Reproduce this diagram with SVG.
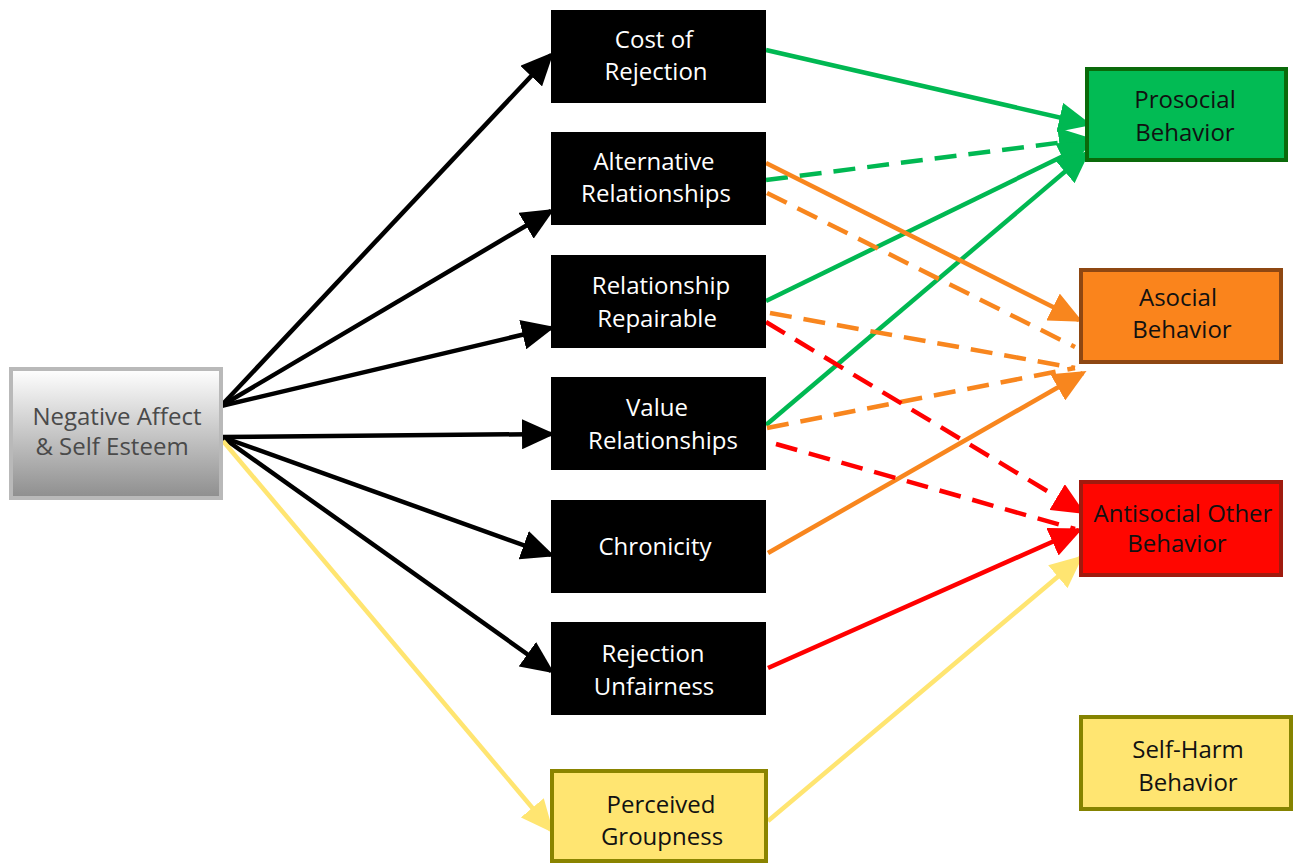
<svg xmlns="http://www.w3.org/2000/svg" width="1294" height="865" viewBox="0 0 1294 865">
  <style>
    text { font-family: "Open Sans", "Liberation Sans", sans-serif; font-size: 24px; text-anchor: middle; }
    .dark rect { fill: #000000; }
    .dark text { fill: #ffffff; }
    .out text { fill: #111111; }
    .ln { fill: none; stroke-width: 4.5; }
    .dash { stroke-dasharray: 22 12; }
    .k { stroke: #000000; }
    .g { stroke: #00B852; }
    .o { stroke: #F8861E; }
    .r { stroke: #FF0000; }
    .y { stroke: #FFE571; }
  </style>
  <defs>
    <linearGradient id="greyFade" x1="0" y1="0" x2="0" y2="1">
      <stop offset="0" stop-color="#ffffff"/>
      <stop offset="1" stop-color="#8e8e8e"/>
    </linearGradient>
    <marker id="hk" markerUnits="userSpaceOnUse" markerWidth="33" markerHeight="30" refX="29" refY="15" orient="auto">
      <path d="M0,0 L33,15 L0,30 z" fill="#000000"/>
    </marker>
    <marker id="hg" markerUnits="userSpaceOnUse" markerWidth="33" markerHeight="30" refX="29" refY="15" orient="auto">
      <path d="M0,0 L33,15 L0,30 z" fill="#00B852"/>
    </marker>
    <marker id="ho" markerUnits="userSpaceOnUse" markerWidth="33" markerHeight="30" refX="29" refY="15" orient="auto">
      <path d="M0,0 L33,15 L0,30 z" fill="#F8861E"/>
    </marker>
    <marker id="hr" markerUnits="userSpaceOnUse" markerWidth="33" markerHeight="30" refX="29" refY="15" orient="auto">
      <path d="M0,0 L33,15 L0,30 z" fill="#FF0000"/>
    </marker>
    <marker id="hy" markerUnits="userSpaceOnUse" markerWidth="33" markerHeight="30" refX="29" refY="15" orient="auto">
      <path d="M0,0 L33,15 L0,30 z" fill="#FFE571"/>
    </marker>
  </defs>

  <!-- connectors -->
  <g id="connectors">
    <!-- from the source node to the seven mediators -->
    <line class="ln k" x1="221" y1="406" x2="551" y2="55" marker-end="url(#hk)"/>
    <line class="ln k" x1="221" y1="406" x2="551" y2="211" marker-end="url(#hk)"/>
    <line class="ln k" x1="221" y1="406" x2="551" y2="328" marker-end="url(#hk)"/>
    <line class="ln k" x1="222" y1="437" x2="551" y2="434" marker-end="url(#hk)"/>
    <line class="ln k" x1="222" y1="437" x2="551" y2="555" marker-end="url(#hk)"/>
    <line class="ln k" x1="222" y1="437" x2="551" y2="671" marker-end="url(#hk)"/>
    <line class="ln y" x1="223" y1="441" x2="551" y2="830" marker-end="url(#hy)"/>

    <!-- prosocial -->
    <line class="ln g" x1="766" y1="50" x2="1088" y2="124" marker-end="url(#hg)"/>
    <line class="ln g dash" x1="766" y1="180" x2="1088" y2="139" marker-end="url(#hg)"/>
    <line class="ln g" x1="766" y1="301" x2="1088" y2="144" marker-end="url(#hg)"/>
    <line class="ln g" x1="766" y1="425" x2="1087" y2="153" marker-end="url(#hg)"/>

    <!-- asocial -->
    <line class="ln o" x1="766" y1="163" x2="1079" y2="320" marker-end="url(#ho)"/>
    <line class="ln o dash" x1="767" y1="193" x2="1075" y2="347"/>
    <line class="ln o dash" x1="770" y1="313" x2="1075" y2="368"/>
    <line class="ln o dash" x1="767" y1="428" x2="1075" y2="368"/>
    <line class="ln o" x1="768" y1="553" x2="1083" y2="373" marker-end="url(#ho)"/>

    <!-- antisocial -->
    <line class="ln r dash" x1="766" y1="322" x2="1082" y2="512" marker-end="url(#hr)"/>
    <line class="ln r dash" x1="776" y1="444" x2="1075" y2="529"/>
    <line class="ln r" x1="768" y1="668" x2="1079" y2="530" marker-end="url(#hr)"/>
    <line class="ln y" x1="768" y1="821" x2="1080" y2="558" marker-end="url(#hy)"/>
  </g>

  <!-- source node -->
  <g id="node-negative-affect">
    <rect x="11" y="369" width="210" height="129" fill="url(#greyFade)" stroke="#b9b9b9" stroke-width="4"/>
    <text x="117" y="425" fill="#4a4a4a" font-size="22">Negative Affect</text>
    <text x="112" y="455" fill="#4a4a4a" font-size="22">&amp; Self Esteem</text>
  </g>

  <!-- mediators -->
  <g id="node-cost" class="dark">
    <rect x="551" y="10" width="215" height="93"/>
    <text x="654" y="48">Cost of</text>
    <text x="656" y="80">Rejection</text>
  </g>
  <g id="node-alternative" class="dark">
    <rect x="551" y="132" width="215" height="93"/>
    <text x="654" y="170">Alternative</text>
    <text x="656" y="202">Relationships</text>
  </g>
  <g id="node-repairable" class="dark">
    <rect x="551" y="255" width="215" height="93"/>
    <text x="661" y="294">Relationship</text>
    <text x="657" y="327">Repairable</text>
  </g>
  <g id="node-value" class="dark">
    <rect x="551" y="377" width="215" height="93"/>
    <text x="657" y="416">Value</text>
    <text x="663" y="449">Relationships</text>
  </g>
  <g id="node-chronicity" class="dark">
    <rect x="551" y="500" width="215" height="93"/>
    <text x="655" y="555">Chronicity</text>
  </g>
  <g id="node-unfairness" class="dark">
    <rect x="551" y="622" width="215" height="93"/>
    <text x="653" y="662">Rejection</text>
    <text x="654" y="695">Unfairness</text>
  </g>
  <g id="node-groupness" class="out">
    <rect x="552" y="771" width="214" height="90" fill="#FFE571" stroke="#8A8400" stroke-width="4"/>
    <text x="661" y="813">Perceived</text>
    <text x="662" y="845">Groupness</text>
  </g>

  <!-- outcomes -->
  <g id="node-prosocial" class="out">
    <rect x="1087" y="69" width="199" height="91" fill="#02BB54" stroke="#0A6A0A" stroke-width="4"/>
    <text x="1185" y="108">Prosocial</text>
    <text x="1185" y="141">Behavior</text>
  </g>
  <g id="node-asocial" class="out">
    <rect x="1081" y="270" width="200" height="92" fill="#FA841C" stroke="#8E4712" stroke-width="4"/>
    <text x="1178" y="306">Asocial</text>
    <text x="1182" y="338">Behavior</text>
  </g>
  <g id="node-antisocial" class="out">
    <rect x="1081" y="482" width="200" height="93" fill="#FF0600" stroke="#A01A0E" stroke-width="4"/>
    <text x="1183" y="522" font-size="23">Antisocial Other</text>
    <text x="1177" y="552">Behavior</text>
  </g>
  <g id="node-selfharm" class="out">
    <rect x="1081" y="717" width="210" height="92" fill="#FFE571" stroke="#858300" stroke-width="4"/>
    <text x="1188" y="758">Self-Harm</text>
    <text x="1188" y="791">Behavior</text>
  </g>
</svg>
